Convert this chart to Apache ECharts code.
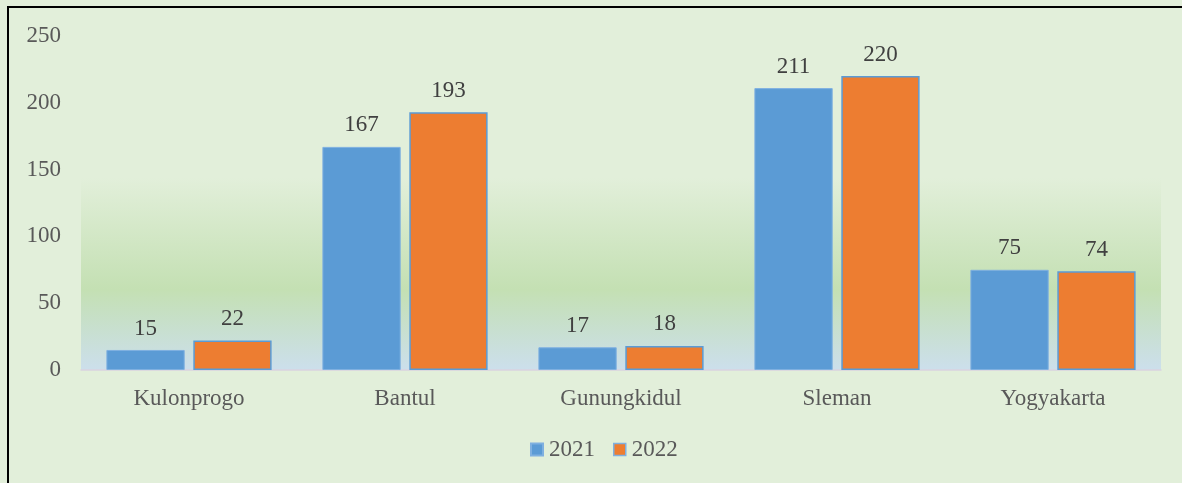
<!DOCTYPE html>
<html><head><meta charset="utf-8">
<script src="https://cdn.jsdelivr.net/npm/echarts@6/dist/echarts.min.js"></script>
<style>html,body{margin:0;padding:0;background:#E2EFDA;}#c{width:1182px;height:483px;}</style>
</head><body><div id="c"></div>
<script>
const categories = ['Kulonprogo', 'Bantul', 'Gunungkidul', 'Sleman', 'Yogyakarta'];
const values2021 = [15, 167, 17, 211, 75];
const values2022 = [22, 193, 18, 220, 74];
const yTicks = [0, 50, 100, 150, 200, 250];

const chart = echarts.init(document.getElementById('c'));
const font = '"Liberation Serif", "Times New Roman", serif';
const fs = 23;
const gridL = 81, gridR = 21, gridT = 36, gridB = 113;
chart.setOption({
  backgroundColor: '#E2EFDA',
  animation: false,
  textStyle: { fontFamily: font },
  graphic: [
    { type: 'rect', z: 0, shape: { x: 8, y: 7, width: 1200, height: 500 },
      style: { fill: null, stroke: '#000', lineWidth: 2 } },
    { type: 'rect', z: 0, shape: { x: gridL, y: 178, width: 1182 - gridL - gridR, height: 483 - gridB - 178 },
      style: { fill: new echarts.graphic.LinearGradient(0, 0, 0, 1, [
        { offset: 0, color: '#E2EFDA' },
        { offset: 0.58, color: '#C4E0B3' },
        { offset: 1, color: '#CCDFEC' }
      ]) } }
  ],
  grid: { left: gridL, right: gridR, top: gridT, bottom: gridB, containLabel: false },
  legend: {
    top: 433, left: 525, itemWidth: 12, itemHeight: 12, itemGap: 18,
    textStyle: { fontFamily: font, fontSize: fs, color: '#595959', padding: [0, 0, 0, 1] },
    data: [
      { name: '2021', icon: 'rect' },
      { name: '2022', icon: 'rect', itemStyle: { borderColor: '#7FB0E0', borderWidth: 1.5 } }
    ]
  },
  xAxis: {
    type: 'category', data: categories,
    axisLine: { lineStyle: { color: '#D9D4E0', width: 1.5 } },
    axisTick: { show: false },
    axisLabel: { fontFamily: font, fontSize: fs, color: '#595959', margin: 17 }
  },
  yAxis: {
    type: 'value', min: yTicks[0], max: yTicks[yTicks.length - 1], interval: 50,
    splitLine: { show: false }, axisLine: { show: false }, axisTick: { show: false },
    axisLabel: { fontFamily: font, fontSize: fs, color: '#595959', margin: 20 }
  },
  series: [
    { name: '2021', type: 'bar', data: values2021, barGap: '11%', barCategoryGap: '23.5%',
      itemStyle: { color: '#5B9BD5', borderColor: '#7FB0E0', borderWidth: 1 },
      label: { show: true, position: 'top', distance: 10, fontFamily: font, fontSize: fs, color: '#404040' } },
    { name: '2022', type: 'bar', data: values2022,
      itemStyle: { color: '#ED7D31', borderColor: '#5B9BD5', borderWidth: 1.5 },
      label: { show: true, position: 'top', distance: 10, fontFamily: font, fontSize: fs, color: '#404040' } }
  ]
});
</script></body></html>
